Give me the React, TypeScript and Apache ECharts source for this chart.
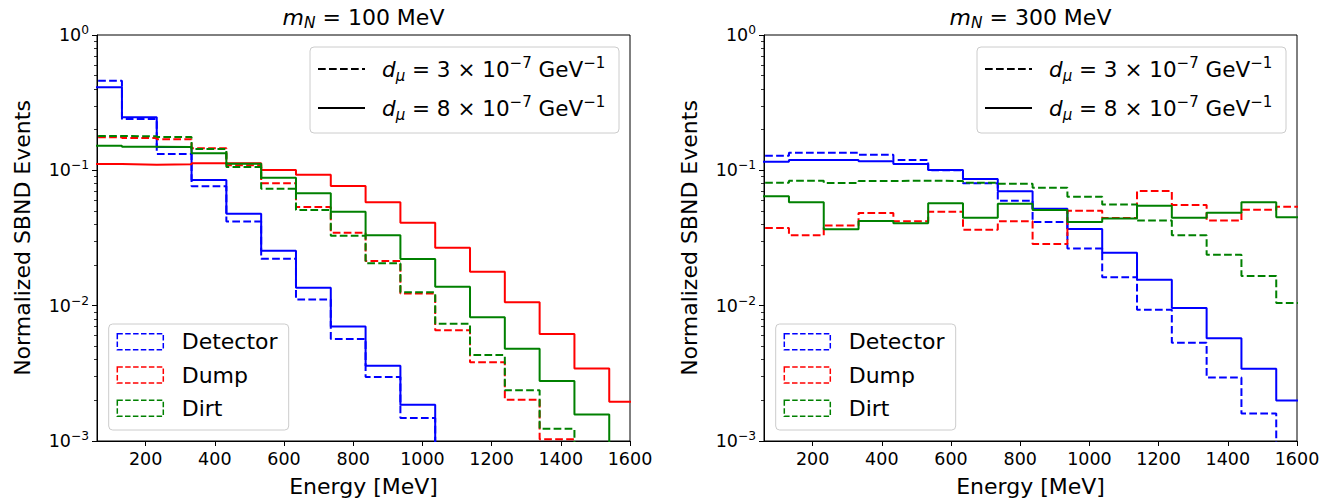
import React, { useEffect, useRef } from "react";
import * as echarts from "echarts";

const FONT = "DejaVu Sans";

// histogram bin edges (MeV)
const binEdges = [31, 131.6, 232.2, 332.8, 433.4, 534, 634.6, 735.2, 835.8, 936.4, 1037, 1137.6, 1238.2, 1338.8, 1439.4, 1540, 1640.6];
const xTicks = [200, 400, 600, 800, 1000, 1200, 1400, 1600];
const yMajorTicks = [0.001, 0.01, 0.1, 1];
const yMinorTicks = [
  0.002, 0.003, 0.004, 0.005, 0.006, 0.007, 0.008, 0.009,
  0.02, 0.03, 0.04, 0.05, 0.06, 0.07, 0.08, 0.09,
  0.2, 0.3, 0.4, 0.5, 0.6, 0.7, 0.8, 0.9,
];

// m_N = 100 MeV  (dashed: d = 3e-7, solid: d = 8e-7)
const detector100Dashed = [0.459, 0.239, 0.132, 0.0762, 0.0418, 0.0222, 0.0111, 0.00567, 0.00297, 0.00148];
const detector100Solid = [0.411, 0.2465, 0.1487, 0.0848, 0.0478, 0.0255, 0.01358, 0.00703, 0.0036, 0.00185];
const dump100Dashed = [0.1754, 0.173, 0.17, 0.1455, 0.109, 0.0802, 0.0536, 0.0346, 0.0214, 0.0123, 0.00657, 0.00382, 0.00202, 0.00103];
const dump100Solid = [0.1113, 0.11, 0.111, 0.1127, 0.113, 0.1006, 0.0929, 0.0766, 0.058, 0.041, 0.0268, 0.0178, 0.01059, 0.00617, 0.00343, 0.00195];
const dirt100Dashed = [0.1794, 0.1784, 0.176, 0.1438, 0.106, 0.0731, 0.0509, 0.0329, 0.0206, 0.01256, 0.00736, 0.00432, 0.00237, 0.00123];
const dirt100Solid = [0.152, 0.1496, 0.1487, 0.1336, 0.112, 0.0882, 0.0677, 0.0495, 0.0331, 0.0221, 0.0138, 0.0082, 0.00481, 0.00277, 0.00157];

// m_N = 300 MeV
const detector300Dashed = [0.128, 0.135, 0.135, 0.1305, 0.1192, 0.1, 0.0802, 0.0597, 0.0415, 0.0264, 0.0162, 0.00933, 0.00533, 0.00294, 0.0016];
const detector300Solid = [0.1159, 0.119, 0.119, 0.1165, 0.1113, 0.1006, 0.0863, 0.07, 0.0521, 0.0368, 0.0246, 0.01556, 0.00961, 0.00574, 0.00342, 0.00199];
const dump300Dashed = [0.0375, 0.0331, 0.0392, 0.0484, 0.042, 0.0495, 0.0364, 0.042, 0.0286, 0.0503, 0.0444, 0.0704, 0.0554, 0.0425, 0.0512, 0.0538];
const dirt300Dashed = [0.0811, 0.0839, 0.0806, 0.0834, 0.0839, 0.0834, 0.081, 0.0796, 0.0744, 0.0639, 0.0558, 0.0425, 0.0331, 0.0238, 0.01656, 0.01047];
const dirt300Solid = [0.0643, 0.058, 0.0367, 0.0422, 0.0406, 0.0571, 0.0447, 0.0567, 0.0509, 0.0415, 0.044, 0.0548, 0.0447, 0.0486, 0.058, 0.045];

const panelMasses = ["100", "300"];
const sourceNames = ["Detector", "Dump", "Dirt"];
const couplings = ["3", "8"];

const COLORS = { Detector: "#0000ff", Dump: "#ff0000", Dirt: "#008000" } as Record<string, string>;
const DASH = [7.7, 3.3];

const panels = [
  {
    left: 97,
    series: [
      { src: "Detector", dashed: true, values: detector100Dashed },
      { src: "Detector", dashed: false, values: detector100Solid },
      { src: "Dump", dashed: true, values: dump100Dashed },
      { src: "Dump", dashed: false, values: dump100Solid },
      { src: "Dirt", dashed: true, values: dirt100Dashed },
      { src: "Dirt", dashed: false, values: dirt100Solid },
    ],
  },
  {
    left: 764,
    series: [
      { src: "Detector", dashed: true, values: detector300Dashed },
      { src: "Detector", dashed: false, values: detector300Solid },
      { src: "Dump", dashed: true, values: dump300Dashed },
      { src: "Dirt", dashed: true, values: dirt300Dashed },
      { src: "Dirt", dashed: false, values: dirt300Solid },
    ],
  },
];

const GRID_TOP = 35;
const GRID_W = 533;
const GRID_H = 406;

function stepData(values: number[]) {
  const pts: number[][] = values.map((v, i) => [binEdges[i], v]);
  const n = values.length;
  if (n < binEdges.length - 1) pts.push([binEdges[n], 1e-6]);
  else pts.push([binEdges[n], values[n - 1]]);
  return pts;
}

const supRich = {
  b: { fontSize: 17.5, fontFamily: FONT, color: "#000", lineHeight: 22 },
  s: { fontSize: 12.25, fontFamily: FONT, color: "#000", lineHeight: 13, verticalAlign: "top" },
};

function buildOption() {
  const grids: any[] = [];
  const xAxes: any[] = [];
  const yAxes: any[] = [];
  const series: any[] = [];
  const graphics: any[] = [];

  panels.forEach((p, gi) => {
    grids.push({
      left: p.left,
      top: GRID_TOP,
      width: GRID_W,
      height: GRID_H,
      show: true,
      borderColor: "#000",
      borderWidth: 1,
      backgroundColor: "transparent",
    });
    xAxes.push({
      type: "value",
      gridIndex: gi,
      min: 59.5,
      max: 1600,
      name: "Energy [MeV]",
      nameLocation: "middle",
      nameGap: 34,
      nameTextStyle: { fontSize: 22, color: "#000", fontFamily: FONT },
      axisLine: { show: true, lineStyle: { color: "#000", width: 1 } },
      axisTick: { show: true, customValues: xTicks, length: 5, lineStyle: { color: "#000", width: 1 } },
      axisLabel: {
        customValues: xTicks,
        fontSize: 17.5,
        color: "#000",
        fontFamily: FONT,
        margin: 9,
        formatter: (v: number) => String(Math.round(v)),
      },
      splitLine: { show: false },
    });
    yAxes.push({
      type: "log",
      logBase: 10,
      gridIndex: gi,
      position: "left",
      min: 0.001,
      max: 1,
      name: "Normalized SBND Events",
      nameLocation: "middle",
      nameGap: 64,
      nameTextStyle: { fontSize: 22, color: "#000", fontFamily: FONT },
      axisLine: { show: true, lineStyle: { color: "#000", width: 1 } },
      axisTick: { show: true, customValues: yMajorTicks, length: 5, lineStyle: { color: "#000", width: 1 } },
      axisLabel: {
        customValues: yMajorTicks,
        margin: 8,
        formatter: (v: number) => {
          const e = Math.round(Math.log10(v));
          const s = e < 0 ? "\u2212" + Math.abs(e) : String(e);
          return `{b|10}{s|${s}}`;
        },
        rich: supRich,
      },
      splitLine: { show: false },
    });
    yAxes.push({
      type: "log",
      logBase: 10,
      gridIndex: gi,
      position: "left",
      min: 0.001,
      max: 1,
      axisLine: { show: false },
      axisTick: { show: true, customValues: yMinorTicks, length: 3, lineStyle: { color: "#000", width: 0.8 } },
      axisLabel: { show: false },
      splitLine: { show: false },
    });

    p.series.forEach((s) => {
      series.push({
        type: "line",
        xAxisIndex: gi,
        yAxisIndex: gi * 2,
        step: "end",
        symbol: "none",
        silent: true,
        clip: true,
        data: stepData(s.values),
        lineStyle: { color: COLORS[s.src], width: 2, type: s.dashed ? DASH : "solid" },
      });
    });

    const cx = p.left + GRID_W / 2;
    // title
    graphics.push({
      type: "text",
      z: 100,
      style: {
        x: cx,
        y: 17,
        align: "center",
        verticalAlign: "middle",
        text: `{i|m}{sub|N}{n| = ${panelMasses[gi]} MeV}`,
        rich: {
          i: { fontSize: 22, fontFamily: FONT, fontStyle: "italic", lineHeight: 26, fill: "#000" },
          sub: { fontSize: 15.4, fontFamily: FONT, fontStyle: "italic", lineHeight: 24, verticalAlign: "bottom", fill: "#000" },
          n: { fontSize: 22, fontFamily: FONT, lineHeight: 26, fill: "#000" },
        },
      },
    });

    // coupling legend (top right)
    const lbx = p.left + GRID_W - 11 - 309;
    graphics.push({
      type: "rect",
      z: 100,
      shape: { x: lbx, y: 47, width: 309, height: 86, r: 4 },
      style: { fill: "rgba(255,255,255,0.8)", stroke: "#cccccc", lineWidth: 1 },
    });
    couplings.forEach((c, k) => {
      const ry = k === 0 ? 69 : 108;
      graphics.push({
        type: "line",
        z: 101,
        shape: { x1: lbx + 8, y1: ry, x2: lbx + 55, y2: ry },
        style: { stroke: "#000", lineWidth: 2, lineDash: k === 0 ? DASH : null },
      });
      graphics.push({
        type: "text",
        z: 101,
        style: {
          x: lbx + 72,
          y: ry,
          align: "left",
          verticalAlign: "middle",
          text: `{i|d}{sub|\u03bc}{n| = ${c} \u00d7 10}{sup|\u22127}{n| GeV}{sup|\u22121}`,
          rich: {
            i: { fontSize: 21.5, fontFamily: FONT, fontStyle: "italic", lineHeight: 28, fill: "#000" },
            sub: { fontSize: 15, fontFamily: FONT, fontStyle: "italic", lineHeight: 20, verticalAlign: "bottom", fill: "#000" },
            n: { fontSize: 21.5, fontFamily: FONT, lineHeight: 28, fill: "#000" },
            sup: { fontSize: 15, fontFamily: FONT, lineHeight: 16, verticalAlign: "top", fill: "#000" },
          },
        },
      });
    });

    // source legend (bottom left)
    const sbx = p.left + 11.7;
    graphics.push({
      type: "rect",
      z: 100,
      shape: { x: sbx, y: 324, width: 180, height: 106, r: 4 },
      style: { fill: "rgba(255,255,255,0.8)", stroke: "#cccccc", lineWidth: 1 },
    });
    sourceNames.forEach((name, k) => {
      const ry = 341.7 + k * 33.3;
      graphics.push({
        type: "rect",
        z: 101,
        shape: { x: sbx + 8.6, y: ry - 8, width: 46, height: 16 },
        style: { fill: "none", stroke: COLORS[name], lineWidth: 1.5, lineDash: [5.5, 2.4] },
      });
      graphics.push({
        type: "text",
        z: 101,
        style: {
          x: sbx + 73,
          y: ry,
          align: "left",
          verticalAlign: "middle",
          text: name,
          fontSize: 22,
          fontFamily: FONT,
          fill: "#000",
        },
      });
    });
  });

  return {
    animation: false,
    backgroundColor: "#fff",
    grid: grids,
    xAxis: xAxes,
    yAxis: yAxes,
    series,
    graphic: { elements: graphics },
  };
}

export default function App() {
  const ref = useRef<HTMLDivElement>(null);
  useEffect(() => {
    const chart = echarts.init(ref.current!, null, { renderer: "svg" });
    chart.setOption(buildOption() as any);
    return () => chart.dispose();
  }, []);
  return <div ref={ref} style={{ position: "absolute", left: 0, top: 0, width: 1338, height: 504 }} />;
}
